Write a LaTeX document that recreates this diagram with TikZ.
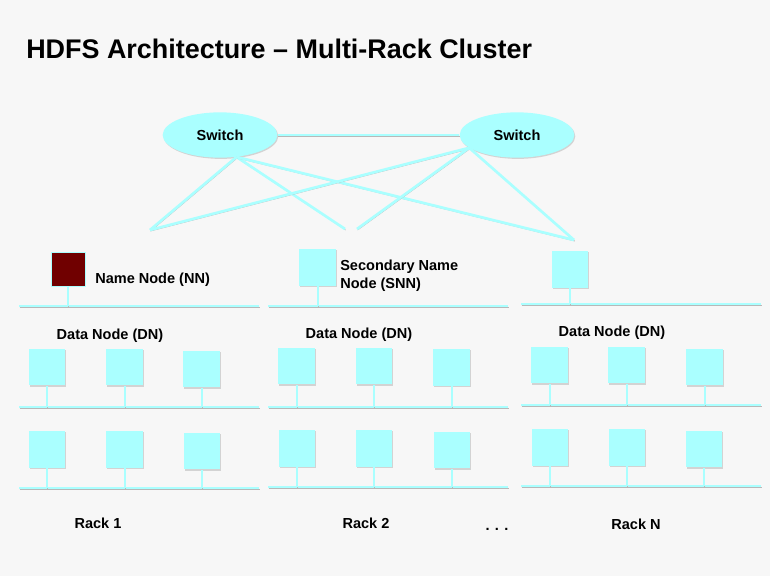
\documentclass[tikz,border=0pt]{standalone}
\usepackage{fontspec}
\setmainfont{Liberation Sans}
\usetikzlibrary{shapes.geometric, positioning, shadows}
\definecolor{slidegray}{RGB}{247,247,247}
\definecolor{netcyan}{RGB}{170,255,255}
\definecolor{nnred}{RGB}{112,0,0}

\begin{document}
\begin{tikzpicture}[
  x=0.75pt, y=-0.75pt,
  font=\bfseries\fontsize{10.9}{13.5}\selectfont,
  boxshadow/.style={
    drop shadow={shadow xshift=0.7pt, shadow yshift=-0.9pt, opacity=0.3},
  },
  lineshadow/.style={
    preaction={draw=black!28, transform canvas={shift={(0.5pt,-0.8pt)}}},
  },
  switchnode/.style={
    ellipse,
    fill=netcyan,
    minimum width=86pt,
    minimum height=34pt,
    inner sep=0pt,
    boxshadow,
  },
  hostbox/.style={
    fill=netcyan,
    minimum size=27.5pt,
    inner sep=0pt,
    boxshadow,
  },
  namebox/.style={
    fill=nnred,
    draw=netcyan,
    line width=0.5pt,
    minimum size=25.5pt,
    inner sep=0pt,
    boxshadow,
  },
  wire/.style={
    draw=netcyan,
    line width=2pt,
    lineshadow,
  },
  bus/.style={
    draw=netcyan,
    line width=1.9pt,
    lineshadow,
  },
  stem/.style={
    draw=netcyan,
    line width=1.5pt,
    lineshadow,
  },
  racklabel/.style={
    inner sep=0pt,
  }
]

  \fill[slidegray] (0,0) rectangle (770,576);
  \useasboundingbox (0,0) rectangle (770,576);

  % Title
  \node[anchor=base west, inner sep=0pt, font=\bfseries\fontsize{20.2}{24}\selectfont] (title) at (26,58) {HDFS Architecture -- Multi-Rack Cluster};

  % Switches
  \node[switchnode] (sw1) at (220,135) {Switch};
  \node[switchnode] (sw2) at (517,135) {Switch};

  \coordinate (up-r1) at (150,230);
  \coordinate (up-r2a) at (345,229);
  \coordinate (up-r2b) at (357,229);
  \coordinate (up-rn) at (574,240);

  \draw[wire] (sw1) -- (sw2);
  \draw[wire] (sw1.-53) -- (up-r1);
  \draw[wire] (sw1.-53) -- (up-r2a);
  \draw[wire] (sw1.-53) -- (up-rn);
  \draw[wire] (sw2.195) -- (up-r1);
  \draw[wire] (sw2.195) -- (up-r2b);
  \draw[wire] (sw2.195) -- (up-rn);

  % Rack 1
  \node[namebox] (nn) at (68,269) {};
  \node[anchor=west, racklabel] (nn-lbl) at (95,280) {Name Node (NN)};
  \coordinate (r1-top-w) at (19,306);
  \coordinate (r1-top-e) at (259,306);
  \draw[bus] (r1-top-w) -- (r1-top-e);
  \draw[stem] (nn.south) -- (nn.south |- r1-top-w);

  \node[racklabel] (r1-dn) at (110,336) {Data Node (DN)};

  \node[hostbox] (r1-a1) at (47,367) {};
  \node[hostbox] (r1-a2) at (124.5,367) {};
  \node[hostbox] (r1-a3) at (201.5,369) {};
  \coordinate (r1-mid-w) at (19,407);
  \coordinate (r1-mid-e) at (259,407);
  \draw[bus] (r1-mid-w) -- (r1-mid-e);
  \draw[stem] (r1-a1.south) -- (r1-a1.south |- r1-mid-w);
  \draw[stem] (r1-a2.south) -- (r1-a2.south |- r1-mid-w);
  \draw[stem] (r1-a3.south) -- (r1-a3.south |- r1-mid-w);

  \node[hostbox] (r1-b1) at (47,449.5) {};
  \node[hostbox] (r1-b2) at (124.5,449.5) {};
  \node[hostbox] (r1-b3) at (202,451) {};
  \coordinate (r1-low-w) at (19,488);
  \coordinate (r1-low-e) at (259,488);
  \draw[bus] (r1-low-w) -- (r1-low-e);
  \draw[stem] (r1-b1.south) -- (r1-b1.south |- r1-low-w);
  \draw[stem] (r1-b2.south) -- (r1-b2.south |- r1-low-w);
  \draw[stem] (r1-b3.south) -- (r1-b3.south |- r1-low-w);

  \node[racklabel] (r1-name) at (98,523) {Rack 1};

  % Rack 2
  \node[hostbox] (snn) at (317.5,267.5) {};
  \node[anchor=west, align=left, racklabel] (snn-lbl) at (340,276) {Secondary Name\\Node (SNN)};
  \coordinate (r2-top-w) at (268,306);
  \coordinate (r2-top-e) at (508,306);
  \draw[bus] (r2-top-w) -- (r2-top-e);
  \draw[stem] (snn.south) -- (snn.south |- r2-top-w);

  \node[racklabel] (r2-dn) at (359,335) {Data Node (DN)};

  \node[hostbox] (r2-a1) at (296.5,366) {};
  \node[hostbox] (r2-a2) at (374,366) {};
  \node[hostbox] (r2-a3) at (451.5,367.5) {};
  \coordinate (r2-mid-w) at (268,407);
  \coordinate (r2-mid-e) at (508,407);
  \draw[bus] (r2-mid-w) -- (r2-mid-e);
  \draw[stem] (r2-a1.south) -- (r2-a1.south |- r2-mid-w);
  \draw[stem] (r2-a2.south) -- (r2-a2.south |- r2-mid-w);
  \draw[stem] (r2-a3.south) -- (r2-a3.south |- r2-mid-w);

  \node[hostbox] (r2-b1) at (297,448.5) {};
  \node[hostbox] (r2-b2) at (374,448.5) {};
  \node[hostbox] (r2-b3) at (452,450) {};
  \coordinate (r2-low-w) at (268,487);
  \coordinate (r2-low-e) at (508,487);
  \draw[bus] (r2-low-w) -- (r2-low-e);
  \draw[stem] (r2-b1.south) -- (r2-b1.south |- r2-low-w);
  \draw[stem] (r2-b2.south) -- (r2-b2.south |- r2-low-w);
  \draw[stem] (r2-b3.south) -- (r2-b3.south |- r2-low-w);

  \node[racklabel] (r2-name) at (366,523) {Rack 2};
  \node[racklabel, anchor=base] (more) at (497,530) {. . .};

  % Rack N
  \node[hostbox] (rn-top) at (570,269.5) {};
  \coordinate (rn-top-w) at (521,304);
  \coordinate (rn-top-e) at (761,304);
  \draw[bus] (rn-top-w) -- (rn-top-e);
  \draw[stem] (rn-top.south) -- (rn-top.south |- rn-top-w);

  \node[racklabel] (rn-dn) at (612,333) {Data Node (DN)};

  \node[hostbox] (rn-a1) at (549.5,365) {};
  \node[hostbox] (rn-a2) at (626.5,365) {};
  \node[hostbox] (rn-a3) at (704.5,367) {};
  \coordinate (rn-mid-w) at (521,405);
  \coordinate (rn-mid-e) at (761,405);
  \draw[bus] (rn-mid-w) -- (rn-mid-e);
  \draw[stem] (rn-a1.south) -- (rn-a1.south |- rn-mid-w);
  \draw[stem] (rn-a2.south) -- (rn-a2.south |- rn-mid-w);
  \draw[stem] (rn-a3.south) -- (rn-a3.south |- rn-mid-w);

  \node[hostbox] (rn-b1) at (550,447.5) {};
  \node[hostbox] (rn-b2) at (627,447.5) {};
  \node[hostbox] (rn-b3) at (704,449) {};
  \coordinate (rn-low-w) at (521,486);
  \coordinate (rn-low-e) at (761,486);
  \draw[bus] (rn-low-w) -- (rn-low-e);
  \draw[stem] (rn-b1.south) -- (rn-b1.south |- rn-low-w);
  \draw[stem] (rn-b2.south) -- (rn-b2.south |- rn-low-w);
  \draw[stem] (rn-b3.south) -- (rn-b3.south |- rn-low-w);

  \node[racklabel] (rn-name) at (636,524) {Rack N};

\end{tikzpicture}
\end{document}
